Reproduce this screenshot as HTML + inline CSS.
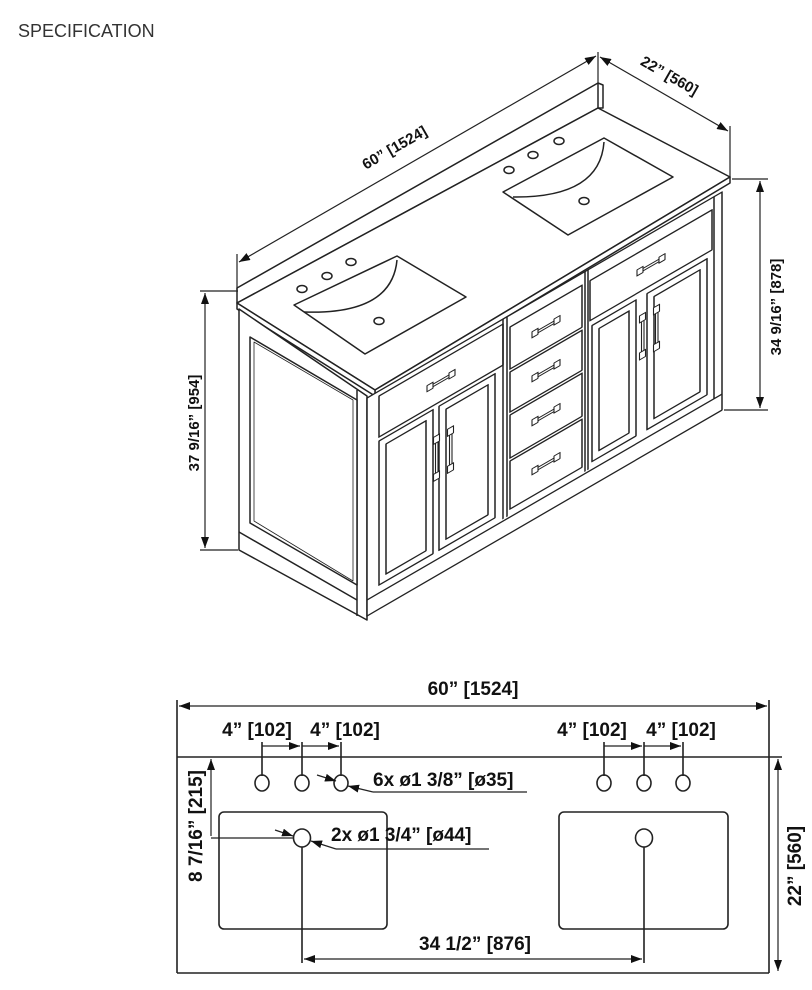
<!DOCTYPE html>
<html><head><meta charset="utf-8"><style>
html,body{margin:0;padding:0;background:#fff;}
svg{display:block;}
.t{font-family:"Liberation Sans",Arial,sans-serif;font-weight:bold;fill:#111;}
</style></head><body>
<svg width="812" height="990" viewBox="0 0 812 990" xmlns="http://www.w3.org/2000/svg">
<defs>
<marker id="a" markerWidth="11" markerHeight="8" refX="11" refY="4" orient="auto-start-reverse" markerUnits="userSpaceOnUse"><path d="M0,0 L11,4 L0,8 Z" fill="#111"/></marker>
<g id="dh"><rect x="-14" y="-3.5" width="6" height="6" fill="#fff" stroke="#222" stroke-width="1.1"/><rect x="8" y="-3.5" width="6" height="6" fill="#fff" stroke="#222" stroke-width="1.1"/><line x1="-8" y1="-1.5" x2="8" y2="-1.5" stroke="#222" stroke-width="1.1"/><line x1="-8" y1="1" x2="8" y2="1" stroke="#222" stroke-width="1.1"/></g>
<g id="vh"><rect x="-3.5" y="-22" width="6" height="7" fill="#fff" stroke="#222" stroke-width="1.1"/><rect x="-3.5" y="15" width="6" height="7" fill="#fff" stroke="#222" stroke-width="1.1"/><line x1="-1.5" y1="-15" x2="-1.5" y2="15" stroke="#222" stroke-width="1.1"/><line x1="1" y1="-15" x2="1" y2="15" stroke="#222" stroke-width="1.1"/></g>
</defs>
<text x="18" y="37" font-family="Liberation Sans,Arial,sans-serif" font-size="18" fill="#333">SPECIFICATION</text>

<g fill="#fff" stroke="#222" stroke-width="1.5" stroke-linejoin="round">
<polygon points="237,288 598,83 603,85 603,108 598,108 237,303"/>
<line x1="598" y1="83" x2="598" y2="108"/>
<polygon points="237,303 598,108 730,177 375,390"/>
<polygon points="375,390 730,177 730,183 375,396"/>
<polygon points="237,303 375,390 375,396 237,309"/>
<polygon points="239,309 367,396 367,620 239,550"/>
<line x1="357" y1="390" x2="357" y2="616"/>
<polygon points="250,337 357,400 357,585 250,523"/>
<polygon points="254,342 353,400 353,581 254,521" fill="none" stroke-width="0.8"/>
<line x1="239" y1="532" x2="357" y2="600"/>
<polygon points="294,305 397,256 466,297 365,354"/>
<path d="M397,260 Q392,315 304,312" fill="none"/>
<ellipse cx="379" cy="321" rx="5" ry="3.5"/>
<ellipse cx="302" cy="289" rx="5" ry="3.5"/><ellipse cx="327" cy="276" rx="5" ry="3.5"/><ellipse cx="351" cy="262" rx="5" ry="3.5"/>
<polygon points="503,192 604,138 673,177 568,235"/>
<path d="M604,142 Q600,198 513,197" fill="none"/>
<ellipse cx="584" cy="201" rx="5" ry="3.5"/>
<ellipse cx="509" cy="170" rx="5" ry="3.5"/><ellipse cx="533" cy="155" rx="5" ry="3.5"/><ellipse cx="559" cy="141" rx="5" ry="3.5"/>
<g transform="matrix(1,-0.58,0,1,367,398)">
<rect x="0" y="0" width="355" height="218"/>
<line x1="0" y1="202" x2="355" y2="202"/>
<line x1="347" y1="0" x2="347" y2="202"/>
<rect x="12" y="5" width="124" height="41"/>
<rect x="12" y="50" width="54" height="144"/><rect x="19" y="57" width="40" height="130"/>
<rect x="72" y="50" width="56" height="144"/><rect x="79" y="57" width="42" height="130"/>
<line x1="136" y1="0" x2="136" y2="200"/><line x1="140" y1="0" x2="140" y2="200"/>
<rect x="143" y="12" width="72" height="42"/>
<rect x="143" y="57" width="72" height="40"/>
<rect x="143" y="100" width="72" height="43"/>
<rect x="143" y="146" width="72" height="48"/>
<line x1="218" y1="0" x2="218" y2="200"/><line x1="221" y1="0" x2="221" y2="200"/>
<rect x="223" y="12" width="122" height="40"/>
<rect x="225" y="58" width="44" height="136"/><rect x="232" y="65" width="30" height="122"/>
<rect x="280" y="58" width="60" height="136"/><rect x="287" y="65" width="46" height="122"/>
<use href="#dh" x="74" y="26"/>
<use href="#dh" x="179" y="33"/><use href="#dh" x="179" y="77"/><use href="#dh" x="179" y="121"/><use href="#dh" x="179" y="170"/>
<use href="#dh" x="284" y="32"/>
<use href="#vh" x="70" y="100"/><use href="#vh" x="84" y="100"/>
<use href="#vh" x="276" y="98"/><use href="#vh" x="290" y="98"/>
</g>
</g>

<g stroke="#222" stroke-width="1.2" fill="none">
<line x1="237" y1="254" x2="237" y2="290"/>
<line x1="598" y1="52" x2="598" y2="84"/>
<line x1="239" y1="262" x2="596" y2="56" marker-start="url(#a)" marker-end="url(#a)"/>
<line x1="600" y1="57" x2="728" y2="131" marker-start="url(#a)" marker-end="url(#a)"/>
<line x1="730" y1="126" x2="730" y2="177"/>
<line x1="200" y1="291" x2="238" y2="291"/><line x1="200" y1="550" x2="238" y2="550"/>
<line x1="205" y1="293" x2="205" y2="548" marker-start="url(#a)" marker-end="url(#a)"/>
<line x1="732" y1="179" x2="768" y2="179"/><line x1="724" y1="410" x2="768" y2="410"/>
<line x1="760" y1="181" x2="760" y2="408" marker-start="url(#a)" marker-end="url(#a)"/>
</g>
<text class="t" font-size="15" transform="translate(397,152) rotate(-29.8)" text-anchor="middle">60” [1524]</text>
<text class="t" font-size="15" transform="translate(667,80) rotate(29.7)" text-anchor="middle">22” [560]</text>
<text class="t" font-size="15" transform="translate(199,423) rotate(-90)" text-anchor="middle">37 9/16” [954]</text>
<text class="t" font-size="15" transform="translate(781,307) rotate(-90)" text-anchor="middle">34 9/16” [878]</text>

<g stroke="#222" stroke-width="1.6" fill="none">
<line x1="177" y1="700" x2="177" y2="973"/>
<line x1="769" y1="700" x2="769" y2="973"/>
<line x1="177" y1="973" x2="769" y2="973"/>
<line x1="177" y1="757" x2="782" y2="757"/>
<line x1="179" y1="706" x2="767" y2="706" stroke-width="1.2" marker-start="url(#a)" marker-end="url(#a)"/>
<line x1="262" y1="742" x2="262" y2="776"/><line x1="302" y1="742" x2="302" y2="776"/><line x1="341" y1="742" x2="341" y2="776"/>
<line x1="604" y1="742" x2="604" y2="776"/><line x1="644" y1="742" x2="644" y2="776"/><line x1="683" y1="742" x2="683" y2="776"/>
<line x1="262" y1="746" x2="300" y2="746" stroke-width="1.2" marker-end="url(#a)"/>
<line x1="302" y1="746" x2="339" y2="746" stroke-width="1.2" marker-end="url(#a)"/>
<line x1="604" y1="746" x2="642" y2="746" stroke-width="1.2" marker-end="url(#a)"/>
<line x1="644" y1="746" x2="681" y2="746" stroke-width="1.2" marker-end="url(#a)"/>
<ellipse cx="262" cy="783" rx="7" ry="8"/><ellipse cx="302" cy="783" rx="7" ry="8"/><ellipse cx="341" cy="783" rx="7" ry="8"/>
<ellipse cx="604" cy="783" rx="7" ry="8"/><ellipse cx="644" cy="783" rx="7" ry="8"/><ellipse cx="683" cy="783" rx="7" ry="8"/>
<line x1="317" y1="775" x2="336" y2="781" stroke-width="1.2" marker-end="url(#a)"/>
<line x1="373" y1="792" x2="348" y2="786" stroke-width="1.2" marker-end="url(#a)"/>
<line x1="373" y1="792" x2="527" y2="792" stroke-width="1.2"/>
<rect x="219" y="812" width="168" height="117" rx="5"/>
<rect x="559" y="812" width="169" height="117" rx="5"/>
<ellipse cx="302" cy="838" rx="8.5" ry="9"/><ellipse cx="644" cy="838" rx="8.5" ry="9"/>
<line x1="275" y1="830" x2="293" y2="836" stroke-width="1.2" marker-end="url(#a)"/>
<line x1="336" y1="849" x2="311" y2="841" stroke-width="1.2" marker-end="url(#a)"/>
<line x1="336" y1="849" x2="489" y2="849" stroke-width="1.2"/>
<line x1="211" y1="838" x2="293" y2="838" stroke-width="1.2"/>
<line x1="211" y1="759" x2="211" y2="836" stroke-width="1.2" marker-start="url(#a)"/>
<line x1="302" y1="847" x2="302" y2="963"/><line x1="644" y1="847" x2="644" y2="963"/>
<line x1="304" y1="959" x2="642" y2="959" stroke-width="1.2" marker-start="url(#a)" marker-end="url(#a)"/>
<line x1="778" y1="759" x2="778" y2="971" stroke-width="1.2" marker-start="url(#a)" marker-end="url(#a)"/>
</g>
<g class="t" font-size="19">
<text x="473" y="695" text-anchor="middle">60” [1524]</text>
<text x="257" y="736" text-anchor="middle">4” [102]</text>
<text x="345" y="736" text-anchor="middle">4” [102]</text>
<text x="592" y="736" text-anchor="middle">4” [102]</text>
<text x="681" y="736" text-anchor="middle">4” [102]</text>
<text x="373" y="786">6x ø1 3/8” [ø35]</text>
<text x="331" y="841">2x ø1 3/4” [ø44]</text>
<text x="475" y="950" text-anchor="middle">34 1/2” [876]</text>
<text transform="translate(202,826) rotate(-90)" text-anchor="middle">8 7/16” [215]</text>
<text transform="translate(801,866) rotate(-90)" text-anchor="middle">22” [560]</text>
</g>
</svg>
</body></html>
